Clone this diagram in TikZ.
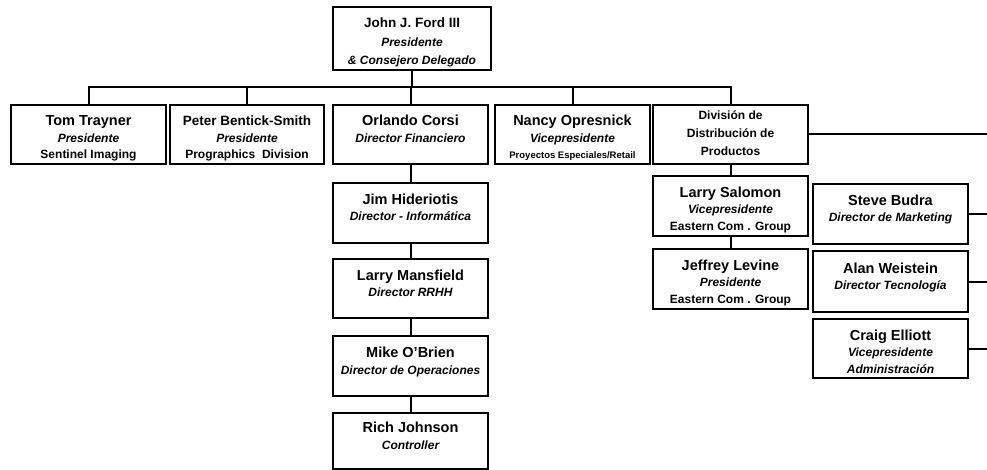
\documentclass[tikz,border=0pt]{standalone}
\usepackage{fontspec}
\setmainfont{Liberation Sans}
\usepackage{tikz}
\usetikzlibrary{positioning}

\newcommand{\orgtext}[3]{%
 \parbox[c][52pt][t]{152pt}{\centering\fontsize{12}{16.5}\selectfont\bfseries
 \rule{0pt}{17.5pt}{\fontsize{14.5}{16.5}\selectfont #1}\\
 {\itshape #2}\\
 #3}}

\begin{document}
\begin{tikzpicture}[
    x=1pt, y=-1pt,
    node distance=16pt,
    person/.style={
		rectangle,
		draw=black,
		line width=2pt,
		fill=white,
		inner sep=0pt,
		minimum width=155pt,
		minimum height=60pt
	},
	link/.style={
		draw=black,
		line width=2pt
	}
  ]

\useasboundingbox (0,0) rectangle (987,470);

% // The president
\node [person, minimum width=158pt, minimum height=63pt] (ford) at (412,38.5)
 {%
 \parbox[c][55pt][t]{154pt}{\centering\fontsize{12}{18.5}\selectfont\bfseries
 \rule{0pt}{17pt}{\fontsize{13.5}{18.5}\selectfont John J. Ford III}\\
 {\itshape Presidente}\\
 {\itshape \& Consejero Delegado}}
 };

% // First level
\node [person, minimum height=59pt] (tom) at (88.5,134.5)
 {\orgtext{Tom Trayner}{Presidente}{Sentinel Imaging}};
\node [person, minimum width=154pt, minimum height=59pt] (peter) at (247,134.5)
 {\orgtext{\fontsize{13.5}{16.5}\selectfont Peter Bentick-Smith}{Presidente}{Prographics\ \ Division}};
\node [person, minimum height=59pt] (orlando) at (410.5,134.5)
 {\orgtext{Orlando Corsi}{Director Financiero}{}};
\node [person, minimum height=59pt] (nancy) at (572.5,134.5)
 {\orgtext{Nancy Opresnick}{Vicepresidente}{\fontsize{9.5}{16.5}\selectfont Proyectos Especiales/Retail}};
\node [person, minimum height=59pt] (division) at (730.5,134.5)
 {%
 \parbox[c][52pt][t]{152pt}{\centering\fontsize{12}{18}\selectfont\bfseries
 \rule{0pt}{11.5pt}División de\\
 Distribución de\\
 Productos}
 };

\coordinate (bus) at (412,87);
\draw [link] (ford) -- (bus);
\draw [link] (tom.north) |- (bus) -| (division.north);
\draw [link] (peter.north) -- (peter.north |- bus);
\draw [link] (orlando.north) -- (orlando.north |- bus);
\draw [link] (nancy.north) -- (nancy.north |- bus);

% // Finance chain
\node [person, below=17pt of orlando] (jim)
 {\orgtext{Jim Hideriotis}{Director - Informática}{}};
\node [person, below=14pt of jim, minimum height=59pt] (mansfield)
 {\orgtext{Larry Mansfield}{Director RRHH}{}};
\node [person, below=16pt of mansfield] (obrien)
 {\orgtext{Mike O’Brien}{Director de Operaciones}{}};
\node [person, below=15pt of obrien, minimum height=56pt] (rich)
 {\orgtext{Rich Johnson}{Controller}{}};

\draw [link] (orlando) -- (jim);
\draw [link] (jim) -- (mansfield);
\draw [link] (mansfield) -- (obrien);
\draw [link] (obrien) -- (rich);

% // Distribution chain
\node [person, below=10pt of division] (salomon)
 {\orgtext{Larry Salomon}{Vicepresidente}{Eastern Com . Group}};
\node [person, below=11pt of salomon] (levine)
 {\orgtext{Jeffrey Levine}{Presidente}{Eastern Com . Group}};

\draw [link] (division) -- (salomon);
\draw [link] (salomon) -- (levine);

% // Right column
\node [person] (budra) at (890.5,214)
 {\orgtext{Steve Budra}{Director de Marketing}{}};
\node [person, below=5pt of budra, minimum height=61pt] (weistein)
 {\orgtext{Alan Weistein}{Director Tecnología}{}};
\node [person, below=5pt of weistein, minimum height=59pt] (elliott)
 {\orgtext{Craig Elliott}{Vicepresidente}{\itshape Administración}};

\coordinate (rail) at (987,0);
\draw [link] (division.east) -- (division.east -| rail);
\draw [link] (budra.east) -- (budra.east -| rail);
\draw [link] (weistein.east) -- (weistein.east -| rail);
\draw [link] (elliott.east) -- (elliott.east -| rail);

\end{tikzpicture}
\end{document}
